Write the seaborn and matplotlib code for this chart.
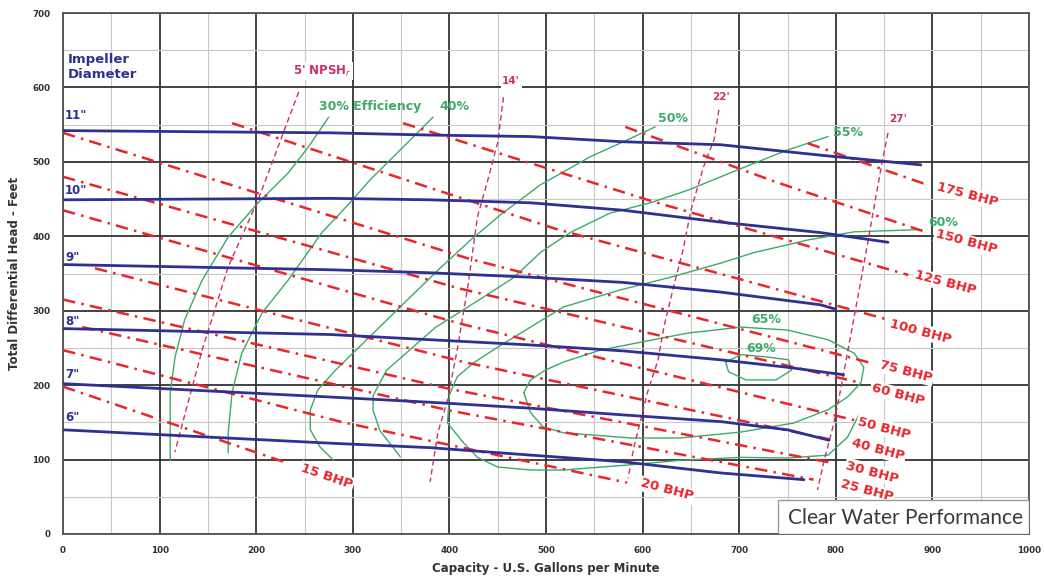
import matplotlib
matplotlib.use("Agg")
import matplotlib.pyplot as plt
import seaborn as sns
from matplotlib.ticker import MultipleLocator
from matplotlib.patches import Rectangle

# ---- Impeller head curves (capacity GPM, head ft) ----
q_11 = [0, 277, 380, 484, 580, 681, 784, 888]
h_11 = [542, 539, 536, 534, 527, 523, 509, 496]
q_10 = [0, 277, 380, 484, 580, 681, 784, 854]
h_10 = [449, 451, 449, 445, 435, 419, 405, 392]
q_9 = [0, 277, 380, 484, 580, 681, 784, 800]
h_9 = [362, 355, 351, 345, 338, 325, 308, 302]
q_8 = [0, 277, 380, 484, 580, 681, 750, 808]
h_8 = [276, 268, 261, 254, 246, 234, 224, 214]
q_7 = [0, 277, 380, 484, 580, 681, 750, 793]
h_7 = [202, 184, 177, 169, 160, 151, 140, 126]
q_6 = [0, 277, 380, 484, 580, 681, 767]
h_6 = [140, 122, 116, 106, 97, 82, 73]
impeller_names = ['11"', '10"', '9"', '8"', '7"', '6"']
impeller_label_h = [562, 462, 372, 285, 214, 156]

# ---- Brake horsepower lines ----
bhp_names = ["175 BHP", "150 BHP", "125 BHP", "100 BHP", "75 BHP", "60 BHP",
             "50 BHP", "40 BHP", "30 BHP", "25 BHP", "20 BHP", "15 BHP"]
bq_175, bh_175 = [771, 895], [525, 469]
bq_150, bh_150 = [582, 740, 895], [547, 472, 405]
bq_125, bh_125 = [352, 610, 875], [552, 447, 348]
bq_100, bh_100 = [175, 510, 854], [552, 410, 288]
bq_75, bh_75 = [0, 420, 836], [539, 370, 230]
bq_60, bh_60 = [0, 410, 826], [480, 330, 203]
bq_50, bh_50 = [0, 410, 819], [435, 283, 153]
bq_40, bh_40 = [33, 415, 798], [357, 231, 126]
bq_30, bh_30 = [0, 400, 798], [315, 195, 95]
bq_25, bh_25 = [20, 400, 777], [278, 166, 73]
bq_20, bh_20 = [0, 290, 584], [247, 150, 69]
bq_15, bh_15 = [0, 233], [198, 95]
bhp_label_q = [936, 935, 913, 888, 873, 864, 850, 844, 838, 832, 625, 273]
bhp_label_h = [456, 392, 337, 272, 218, 187, 142, 113, 83, 58, 59, 77]

# ---- NPSH required lines ----
nq_5 = [244, 202, 171, 144, 119, 116]
nh_5 = [594, 449, 359, 247, 126, 110]
nq_14 = [456, 450, 439, 429, 419, 408, 398, 388, 380]
nh_14 = [587, 526, 472, 426, 332, 247, 180, 136, 70]
nq_22 = [679, 674, 663, 650, 642, 632, 622, 616, 605, 598, 591, 585]
nh_22 = [570, 530, 493, 435, 382, 332, 278, 234, 190, 153, 117, 75]
nq_27 = [854, 847, 839, 833, 826, 819, 812, 805, 798, 788, 781]
nh_27 = [539, 493, 435, 391, 341, 292, 243, 194, 149, 99, 59]
npsh_names = ["5' NPSH$_r$", "14'", "22'", "27'"]
npsh_label_q = [268, 464, 681, 864]
npsh_label_h = [622, 608, 587, 558]

# ---- Efficiency contours ----
eq_30 = [275, 254, 233, 202, 171, 144, 126, 116, 111, 111, 111]
eh_30 = [560, 520, 485, 445, 399, 341, 288, 238, 190, 136, 99]
eq_40 = [383, 363, 339, 318, 297, 268, 233, 206, 185, 175, 171, 171]
eh_40 = [560, 534, 503, 476, 445, 405, 341, 297, 243, 190, 136, 109]
eq_50 = [613, 580, 546, 494, 453, 422, 391, 360, 334, 308, 282, 264, 256, 256, 266, 280]
eh_50 = [547, 527, 507, 469, 429, 395, 358, 319, 286, 253, 220, 194, 167, 140, 117, 99]
eq_55 = [792, 750, 698, 647, 608, 566, 525, 495, 466, 430, 385, 335, 321, 321, 328, 349]
eh_55 = [534, 516, 489, 462, 445, 431, 405, 379, 344, 314, 277, 220, 186, 166, 139, 104]
eq_60 = [888, 819, 771, 715, 681, 629, 577, 518, 484, 450, 425, 408, 400, 398,
         415, 429, 450, 484, 518, 588, 639, 702, 750, 792, 812, 824]
eh_60 = [409, 406, 395, 378, 364, 345, 328, 305, 278, 251, 230, 211, 187, 149,
         122, 103, 90, 86, 86, 93, 99, 103, 102, 106, 130, 160]
eq_65 = [477, 484, 499, 518, 556, 611, 647, 702, 750, 792, 819, 829, 826, 812,
         792, 756, 702, 639, 588, 518, 497, 484, 477]
eh_65 = [190, 207, 220, 231, 247, 261, 270, 278, 274, 261, 243, 224, 203, 184,
         167, 149, 137, 129, 129, 136, 144, 163, 190]
eq_69 = [686, 702, 728, 751, 754, 738, 707, 689, 686]
eh_69 = [231, 241, 238, 234, 220, 207, 207, 218, 231]
eff_names = ["30% Efficiency", "40%", "50%", "55%", "60%", "65%", "69%"]
eff_label_q = [318, 405, 631, 813, 911, 728, 723]
eff_label_h = [575, 574, 558, 540, 419, 288, 249]

BLUE = "#2E3192"
RED = "#E8262B"
NPSH = "#C8326E"
GREEN = "#3DAA6A"
INK = "#333333"

sns.set_theme(style="white")
plt.rcParams["font.family"] = ["DejaVu Sans"]

fig, ax = plt.subplots(figsize=(10.45, 5.81), dpi=100)
fig.subplots_adjust(left=0.0603, right=0.9847, top=0.9776, bottom=0.0809)

# efficiency contours
for q, h in [(eq_30, eh_30), (eq_40, eh_40), (eq_50, eh_50), (eq_55, eh_55),
             (eq_60, eh_60), (eq_65, eh_65), (eq_69, eh_69)]:
    sns.lineplot(x=q, y=h, ax=ax, sort=False, estimator=None, color=GREEN, lw=1.0, zorder=3)

# NPSH lines
for q, h in [(nq_5, nh_5), (nq_14, nh_14), (nq_22, nh_22), (nq_27, nh_27)]:
    sns.lineplot(x=q, y=h, ax=ax, sort=False, estimator=None, color=NPSH, lw=1.0,
                 linestyle=(0, (4, 2.5)), zorder=4)

# BHP lines
bhp_lines = [(bq_175, bh_175), (bq_150, bh_150), (bq_125, bh_125), (bq_100, bh_100),
             (bq_75, bh_75), (bq_60, bh_60), (bq_50, bh_50), (bq_40, bh_40),
             (bq_30, bh_30), (bq_25, bh_25), (bq_20, bh_20), (bq_15, bh_15)]
for q, h in bhp_lines:
    sns.lineplot(x=q, y=h, ax=ax, sort=False, estimator=None, color=RED, lw=1.8,
                 linestyle=(0, (5, 2.5, 1, 2.5)), zorder=5)

# impeller curves
for q, h in [(q_11, h_11), (q_10, h_10), (q_9, h_9), (q_8, h_8), (q_7, h_7), (q_6, h_6)]:
    sns.lineplot(x=q, y=h, ax=ax, sort=False, estimator=None, color=BLUE, lw=2.0, zorder=6)

# labels
for name, yh in zip(impeller_names, impeller_label_h):
    ax.text(2, yh, name, color=BLUE, fontsize=8.5, fontweight="bold", ha="left", va="center", zorder=8)
ax.text(5, 638, "Impeller", color=BLUE, fontsize=9.5, fontweight="bold", ha="left", va="center")
ax.text(5, 618, "Diameter", color=BLUE, fontsize=9.5, fontweight="bold", ha="left", va="center")

for name, q, h in zip(bhp_names, bhp_label_q, bhp_label_h):
    rot = -19 if name == "15 BHP" else -15
    ax.text(q, h, name, color=RED, fontsize=9.5, fontweight="bold", rotation=rot,
            rotation_mode="anchor", ha="center", va="center", zorder=9,
            bbox=dict(boxstyle="square,pad=0.1", fc="white", ec="none"))

for name, q, h in zip(npsh_names, npsh_label_q, npsh_label_h):
    size = 8.5 if name.startswith("5") else 7.5
    ax.text(q, h, name, color=NPSH, fontsize=size, fontweight="bold", ha="center", va="center",
            zorder=9, bbox=dict(boxstyle="square,pad=0.15", fc="white", ec="none"))

for name, q, h in zip(eff_names, eff_label_q, eff_label_h):
    ax.text(q, h, name, color=GREEN, fontsize=9, fontweight="bold", ha="center", va="center", zorder=9)

# clear water box
ax.add_patch(Rectangle((740, 0), 260, 46, facecolor="white", edgecolor="#999999", lw=1.0, zorder=10))
ax.text(994, 22, "Clear Water Performance", color="#3a3a3a", fontsize=15, ha="right",
        va="center", zorder=11, fontfamily="Lato", fontweight="normal")

# axes
ax.set_xlim(0, 1000)
ax.set_ylim(0, 700)
ax.xaxis.set_major_locator(MultipleLocator(100))
ax.yaxis.set_major_locator(MultipleLocator(100))
ax.xaxis.set_minor_locator(MultipleLocator(50))
ax.yaxis.set_minor_locator(MultipleLocator(50))
ax.grid(which="major", color="#333333", lw=1.3)
ax.grid(which="minor", color="#c8c8c8", lw=0.8)
ax.set_axisbelow(True)
ax.tick_params(which="both", length=0, labelsize=6.3, labelcolor=INK, pad=9)
for lab in ax.get_xticklabels() + ax.get_yticklabels():
    lab.set_fontweight("bold")
for s in ax.spines.values():
    s.set_color("#555555")
    s.set_linewidth(1.3)
ax.set_xlabel("Capacity - U.S. Gallons per Minute", fontsize=8.5, fontweight="bold", color=INK, labelpad=5)
ax.set_ylabel("Total Differential Head - Feet", fontsize=8.5, fontweight="bold", color=INK, labelpad=8)

fig.savefig("out.png", dpi=100)
